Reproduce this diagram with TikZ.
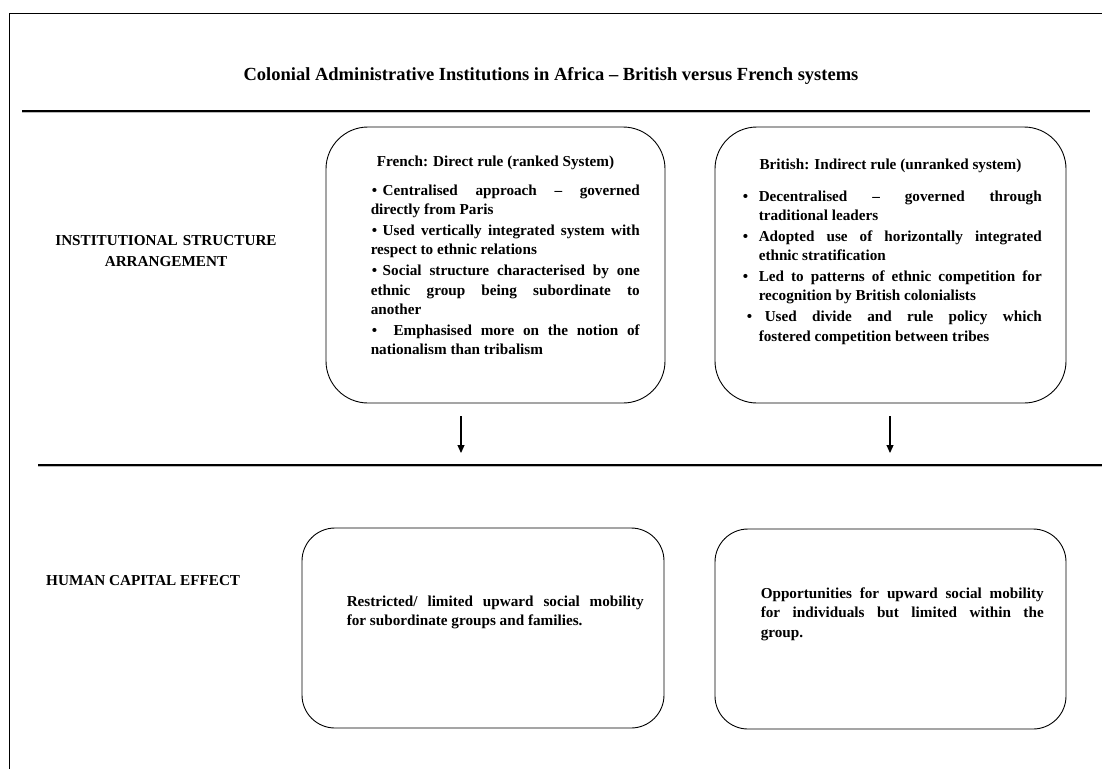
\documentclass[tikz,border=0pt]{standalone}
\usepackage{fontspec}
\setmainfont{Liberation Serif}
\usepackage{tikz}
\usetikzlibrary{positioning}
\usetikzlibrary{arrows.meta}
\NewDocumentCommand{\itemmark}{O{11pt}}{%
\makebox[#1][l]{\textbullet}%
}

\begin{document}
\begin{tikzpicture}[
x=1pt, y=-1pt,
frameline/.style={black, line width=0.9pt},
ruleline/.style={black, line width=1.1pt},
ruleshadow/.style={gray!55, line width=1pt},
policynode/.style={rectangle, draw=black, line width=0.9pt, rounded corners=42pt, inner sep=0pt, minimum height=276pt},
effectnode/.style={rectangle, draw=black, line width=0.9pt, rounded corners=33pt, inner sep=0pt, minimum height=200pt},
headtext/.style={inner sep=0pt, font=\fontsize{18.5}{22}\selectfont\bfseries},
labeltext/.style={inner sep=0pt, font=\fontsize{15.2}{21}\selectfont\bfseries},
itemtext/.style={inner sep=0pt, anchor=base west, align=justify, font=\fontsize{15.2}{19.3}\selectfont\bfseries},
flowarrow/.style={black, line width=1.1pt, -{Triangle[length=8pt, width=7pt]}},
]
\useasboundingbox (0,0) rectangle (1102,769);

%Frame and rules
\draw[frameline] (9,769) -- (9,13) -- (1102,13);
\foreach \y/\xa/\xb in {111/22/1090, 465/38/1102} {
	\draw[ruleshadow] (\xa,\y+1.6) -- (\xb,\y+1.6);
	\draw[ruleline] (\xa,\y) -- (\xb,\y);
}

%Nodes
\node[headtext, anchor=base]	(heading)		at (551,80)		{Colonial Administrative Institutions in Africa -- British versus French systems};
\node[labeltext, anchor=base, text width=250pt, align=center]	(structurelabel)	at (166,245)	{INSTITUTIONAL STRUCTURE\\ARRANGEMENT};
\node[labeltext, anchor=base west]	(effectlabel)	at (46,585)		{HUMAN CAPITAL EFFECT};

\node[policynode, minimum width=339pt]	(frenchbox)		at (495.5,265)	{};
\node[policynode, minimum width=351pt]	(britishbox)	at (890.5,265)	{};
\node[effectnode, minimum width=362pt]	(frencheffect)	at (483,628)	{};
\node[effectnode, minimum width=351pt]	(britisheffect)	at (890.5,629)	{};

\node[headtext, font=\fontsize{15.2}{19.3}\selectfont\bfseries, anchor=base]	(frenchtitle)	at ([shift={(0,40)}]frenchbox.north)	{French: Direct rule (ranked System)};
\node[headtext, font=\fontsize{15.2}{19.3}\selectfont\bfseries, anchor=base]	(britishtitle)	at ([shift={(0,43)}]britishbox.north)	{British: Indirect rule (unranked system)};

\node[itemtext, text width=269pt]	(frenchitems)	at ([shift={(45,69)}]frenchbox.north west)	{\setlength{\parskip}{1.5pt}%
\hspace*{1pt}\itemmark Centralised approach -- governed\linebreak directly from Paris\par
\hspace*{1pt}\itemmark Used vertically integrated system with\linebreak respect to ethnic relations\par
\hspace*{1pt}\itemmark Social structure characterised by one\linebreak ethnic group being subordinate to\linebreak another\par
\hspace*{1pt}\itemmark[13pt] Emphasised more on the notion of\linebreak nationalism than tribalism\par};

\node[itemtext, text width=299pt]	(britishitems)	at ([shift={(28,74.5)}]britishbox.north west)	{\setlength{\parskip}{1.7pt}%
\hangindent=16pt\hangafter=1\itemmark[16pt]Decentralised -- governed through\linebreak traditional leaders\par
\hangindent=16pt\hangafter=1\itemmark[16pt]Adopted use of horizontally integrated\linebreak ethnic stratification\par
\hangindent=16pt\hangafter=1\itemmark[16pt]Led to patterns of ethnic competition for\linebreak recognition by British colonialists\par
\hangindent=16pt\hangafter=1\hspace*{4pt}\itemmark[18pt]Used divide and rule policy which\linebreak fostered competition between tribes\par};

\node[itemtext, text width=297pt]	(frencheffecttext)	at ([shift={(45,79)}]frencheffect.north west)	{Restricted/ limited upward social mobility\linebreak for subordinate groups and families.};
\node[itemtext, text width=283pt]	(britisheffecttext)	at ([shift={(46,70)}]britisheffect.north west)	{Opportunities for upward social mobility\linebreak for individuals but limited within the\linebreak group.};

%Lines
\coordinate (frenchstart)	at (461,416);
\coordinate (frenchend)		at (461,453);
\coordinate (britishstart)	at (890,416);
\coordinate (britishend)	at (890,453);
\draw[flowarrow] (frenchstart) -- (frenchend);
\draw[flowarrow] (britishstart) -- (britishend);
\end{tikzpicture}
\end{document}
